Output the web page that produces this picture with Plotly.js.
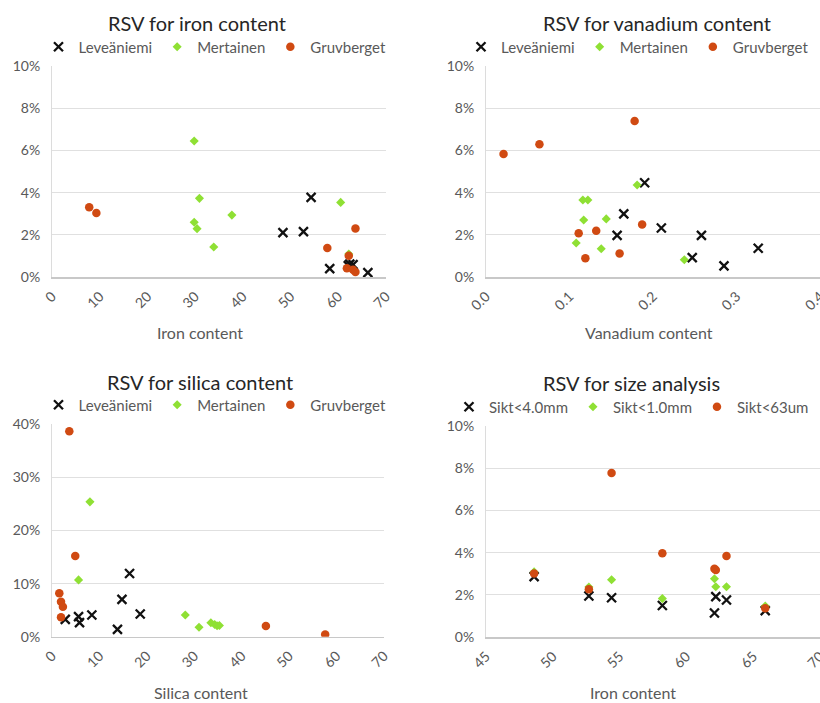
<!DOCTYPE html>
<html>
<head>
<meta charset="utf-8">
<script src="https://cdn.plot.ly/plotly-3.0.1.min.js"></script>
<style>
html,body{margin:0;padding:0;background:#ffffff;}
#chart{width:820px;height:703px;}
</style>
</head>
<body>
<div id="chart"></div>
<script>
// ---------- DATA ----------
// Panel 1: RSV for iron content (x = iron content, y = RSV %)
const ironLevX = [48.4, 52.7, 54.3, 58.2, 62.1, 62.4, 63.1, 66.2];
const ironLevY = [2.11, 2.16, 3.78, 0.41, 0.55, 0.62, 0.6, 0.22];
const ironMerX = [29.8, 30.9, 29.8, 30.4, 33.9, 37.7, 60.5, 62.2];
const ironMerY = [6.44, 3.73, 2.6, 2.3, 1.43, 2.94, 3.54, 1.1];
const ironGruX = [7.8, 9.3, 57.7, 63.6, 62.2, 61.8, 63.1, 63.6];
const ironGruY = [3.31, 3.04, 1.39, 2.31, 1.02, 0.43, 0.36, 0.25];

// Panel 2: RSV for vanadium content
const vanLevX = [0.190, 0.165, 0.157, 0.210, 0.258, 0.247, 0.285, 0.326];
const vanLevY = [4.47, 3.0, 1.98, 2.33, 1.98, 0.93, 0.54, 1.37];
const vanMerX = [0.181, 0.116, 0.122, 0.117, 0.144, 0.108, 0.138, 0.2375];
const vanMerY = [4.36, 3.65, 3.65, 2.71, 2.76, 1.62, 1.35, 0.83];
const vanGruX = [0.021, 0.064, 0.178, 0.111, 0.132, 0.187, 0.119, 0.160];
const vanGruY = [5.83, 6.29, 7.39, 2.08, 2.2, 2.5, 0.9, 1.13];

// Panel 3: RSV for silica content
const silLevX = [2.8, 5.6, 5.8, 8.4, 14.75, 16.35, 18.6, 13.8];
const silLevY = [3.27, 3.77, 2.64, 4.09, 7.04, 11.9, 4.27, 1.38];
const silMerX = [8.0, 5.6, 28.1, 31.0, 33.5, 34.3, 34.8, 35.3];
const silMerY = [25.4, 10.7, 4.09, 1.77, 2.64, 2.3, 2.07, 2.1];
const silGruX = [3.65, 4.9, 1.54, 1.9, 2.3, 1.9, 45.1, 57.6];
const silGruY = [38.7, 15.2, 8.17, 6.6, 5.65, 3.65, 2.0, 0.4];

// Panel 4: RSV for size analysis (x = iron content)
const sizeFe   = [48.6, 52.7, 54.4, 58.2, 62.1, 62.2, 63.0, 65.9];
const sikt40Y  = [2.87, 1.95, 1.87, 1.50, 1.15, 1.92, 1.76, 1.26];
const sikt10Y  = [3.09, 2.38, 2.72, 1.83, 2.77, 2.39, 2.39, 1.48];
const sikt63Y  = [3.02, 2.27, 7.76, 3.97, 3.24, 3.18, 3.84, 1.37];

const siteNames = ['Leveäniemi', 'Mertainen', 'Gruvberget'];
const sizeNames = ['Sikt&lt;4.0mm', 'Sikt&lt;1.0mm', 'Sikt&lt;63um'];
const panelTitles = ['RSV for iron content', 'RSV for vanadium content', 'RSV for silica content', 'RSV for size analysis'];
const axisTitles = ['Iron content', 'Vanadium content', 'Silica content', 'Iron content'];

// ---------- STYLE ----------
const W = 820, H = 703;
const FONT = 'Lato, "Open Sans", sans-serif';
const GREY = '#595959';
const px = v => v / W;
const py = v => 1 - v / H;

const markerStyles = [
  {symbol: 'x-thin', size: 9, color: '#111111', line: {color: '#111111', width: 2.3}},
  {symbol: 'diamond', size: 7, color: '#8fe034', line: {width: 0}},
  {symbol: 'circle', size: 8.5, color: '#d04a12', line: {width: 0}}
];

function series(x, y, name, k, axIdx, legendId) {
  const sfx = axIdx === 1 ? '' : String(axIdx);
  return {
    type: 'scatter', mode: 'markers', x: x, y: y, name: name,
    xaxis: 'x' + sfx, yaxis: 'y' + sfx,
    legend: legendId,
    marker: markerStyles[k],
    hoverinfo: 'x+y'
  };
}

const traces = [
  series(ironLevX, ironLevY, siteNames[0], 0, 1, 'legend'),
  series(ironMerX, ironMerY, siteNames[1], 1, 1, 'legend'),
  series(ironGruX, ironGruY, siteNames[2], 2, 1, 'legend'),
  series(vanLevX, vanLevY, siteNames[0], 0, 2, 'legend2'),
  series(vanMerX, vanMerY, siteNames[1], 1, 2, 'legend2'),
  series(vanGruX, vanGruY, siteNames[2], 2, 2, 'legend2'),
  series(silLevX, silLevY, siteNames[0], 0, 3, 'legend3'),
  series(silMerX, silMerY, siteNames[1], 1, 3, 'legend3'),
  series(silGruX, silGruY, siteNames[2], 2, 3, 'legend3'),
  series(sizeFe, sikt40Y, sizeNames[0], 0, 4, 'legend4'),
  series(sizeFe, sikt10Y, sizeNames[1], 1, 4, 'legend4'),
  series(sizeFe, sikt63Y, sizeNames[2], 2, 4, 'legend4')
];

// panel geometry in pixels
const geo = [
  {l: 52, r: 386, t: 65.7, b: 277.3, xr: [0, 70], xd: 10, xf: '', yr: [0, 10], yd: 2, tx: 197, ty: 23, lx: 215, la: 'center', ly: 47, ax: 200, ay: 333},
  {l: 486, r: 820, t: 65.7, b: 277.3, xr: [0, 0.4], xd: 0.1, xf: '.1f', yr: [0, 10], yd: 2, tx: 657, ty: 23, lx: 814, la: 'right', ly: 47, ax: 649, ay: 333},
  {l: 52, r: 384, t: 424.3, b: 636.7, xr: [0, 70], xd: 10, xf: '', yr: [0, 40], yd: 10, tx: 200, ty: 382, lx: 215, la: 'center', ly: 405, ax: 201, ay: 692},
  {l: 486, r: 820, t: 425.7, b: 637.3, xr: [45, 70], xd: 5, xf: '', yr: [0, 10], yd: 2, tx: 631, ty: 383, lx: 814, la: 'right', ly: 407, ax: 633, ay: 692}
];

const layout = {
  width: W, height: H,
  margin: {l: 0, r: 0, t: 0, b: 0, autoexpand: false},
  paper_bgcolor: '#ffffff', plot_bgcolor: '#ffffff',
  font: {family: FONT, color: GREY},
  annotations: [],
  showlegend: true
};

geo.forEach((g, i) => {
  const sfx = i === 0 ? '' : String(i + 1);
  layout['xaxis' + sfx] = {
    domain: [px(g.l), px(g.r)], anchor: 'y' + sfx,
    range: g.xr, dtick: g.xd, tick0: g.xr[0], tickformat: g.xf,
    tickangle: -45, showgrid: false, zeroline: false,
    showline: true, linecolor: '#c8c8c8', linewidth: 1.5,
    ticks: '', ticklabelstandoff: 4, ticklabeloverflow: 'allow',
    tickfont: {family: FONT, size: 14, color: GREY},
    automargin: false, fixedrange: true
  };
  layout['yaxis' + sfx] = {
    domain: [py(g.b), py(g.t)], anchor: 'x' + sfx,
    range: g.yr, dtick: g.yd, ticksuffix: '%',
    showgrid: true, gridcolor: '#e0e0e0', gridwidth: 1,
    zeroline: false, showline: true, linecolor: '#dcdcdc', linewidth: 1,
    ticks: '', ticklabelstandoff: 8, ticklabeloverflow: 'allow',
    tickfont: {family: FONT, size: 14, color: GREY},
    automargin: false, fixedrange: true
  };
  const legKey = i === 0 ? 'legend' : 'legend' + (i + 1);
  layout[legKey] = {
    orientation: 'h', x: px(g.lx), xanchor: g.la, y: py(g.ly), yanchor: 'middle',
    font: {family: FONT, size: 15, color: GREY},
    itemwidth: 30, bgcolor: 'rgba(0,0,0,0)', borderwidth: 0, traceorder: 'normal'
  };
  layout.annotations.push({
    text: panelTitles[i], xref: 'paper', yref: 'paper', x: px(g.tx), y: py(g.ty),
    xanchor: 'center', yanchor: 'middle', showarrow: false,
    font: {family: FONT, size: 20, color: '#262626'}
  });
  layout.annotations.push({
    text: axisTitles[i], xref: 'paper', yref: 'paper', x: px(g.ax), y: py(g.ay),
    xanchor: 'center', yanchor: 'middle', showarrow: false,
    font: {family: FONT, size: 16, color: GREY}
  });
});

Plotly.newPlot('chart', traces, layout, {displayModeBar: false, staticPlot: true});
</script>
</body>
</html>
